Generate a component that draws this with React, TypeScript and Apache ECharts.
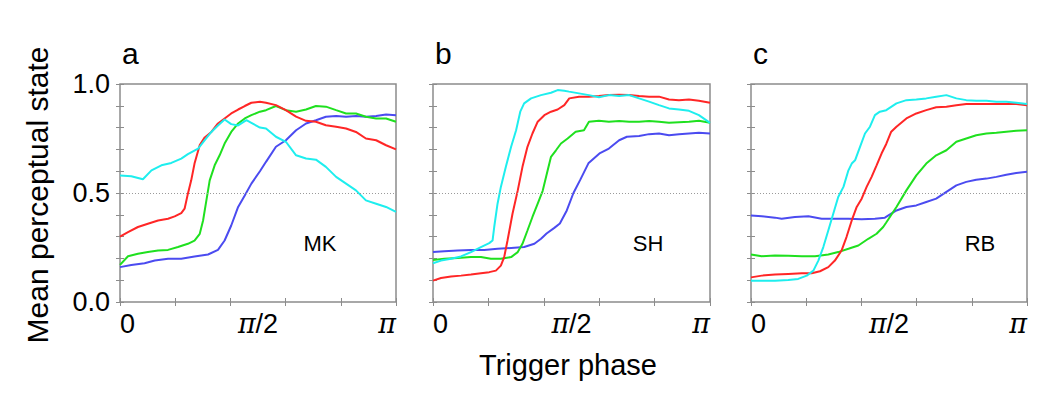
import React, { useEffect, useRef } from "react";
import * as echarts from "echarts";

// x in units of pi, y = mean perceptual state
const mkRed = [[0,0.30],[0.029,0.32],[0.065,0.344],[0.101,0.359],[0.138,0.374],[0.174,0.382],[0.198,0.393],[0.222,0.408],[0.234,0.428],[0.246,0.497],[0.258,0.558],[0.27,0.635],[0.289,0.72],[0.307,0.755],[0.331,0.78],[0.355,0.819],[0.379,0.842],[0.403,0.865],[0.428,0.883],[0.452,0.899],[0.476,0.914],[0.507,0.919],[0.529,0.914],[0.565,0.903],[0.601,0.88],[0.638,0.85],[0.674,0.831],[0.71,0.827],[0.746,0.811],[0.783,0.804],[0.819,0.796],[0.855,0.78],[0.891,0.75],[0.928,0.742],[0.964,0.719],[1.0,0.70]];
const mkGreen = [[0,0.17],[0.029,0.21],[0.065,0.221],[0.101,0.229],[0.138,0.236],[0.174,0.239],[0.21,0.252],[0.246,0.267],[0.27,0.282],[0.289,0.313],[0.301,0.374],[0.313,0.466],[0.325,0.558],[0.343,0.627],[0.361,0.673],[0.379,0.727],[0.403,0.78],[0.428,0.819],[0.452,0.842],[0.476,0.857],[0.507,0.873],[0.529,0.88],[0.565,0.899],[0.601,0.88],[0.638,0.873],[0.674,0.883],[0.71,0.899],[0.746,0.896],[0.783,0.88],[0.819,0.865],[0.855,0.865],[0.891,0.85],[0.928,0.842],[0.964,0.842],[1.0,0.827]];
const mkBlue = [[0,0.16],[0.041,0.17],[0.089,0.178],[0.126,0.19],[0.174,0.198],[0.222,0.198],[0.27,0.209],[0.319,0.218],[0.355,0.239],[0.379,0.282],[0.403,0.351],[0.428,0.436],[0.452,0.489],[0.476,0.543],[0.507,0.60],[0.529,0.643],[0.565,0.712],[0.601,0.742],[0.638,0.788],[0.674,0.819],[0.71,0.834],[0.746,0.85],[0.783,0.853],[0.819,0.85],[0.855,0.853],[0.891,0.85],[0.928,0.853],[0.964,0.86],[1.0,0.857]];
const mkCyan = [[0,0.58],[0.041,0.577],[0.083,0.563],[0.114,0.604],[0.15,0.627],[0.186,0.638],[0.222,0.658],[0.246,0.678],[0.283,0.704],[0.307,0.742],[0.331,0.78],[0.355,0.81],[0.379,0.837],[0.403,0.816],[0.428,0.81],[0.458,0.834],[0.476,0.822],[0.507,0.80],[0.529,0.796],[0.565,0.758],[0.601,0.735],[0.638,0.673],[0.674,0.658],[0.71,0.653],[0.746,0.62],[0.783,0.574],[0.819,0.543],[0.855,0.512],[0.891,0.466],[0.928,0.451],[0.964,0.436],[1.0,0.413]];

const shRed = [[0,0.098],[0.029,0.11],[0.065,0.117],[0.101,0.121],[0.137,0.126],[0.173,0.132],[0.203,0.137],[0.227,0.144],[0.245,0.167],[0.257,0.206],[0.269,0.282],[0.287,0.405],[0.306,0.512],[0.323,0.62],[0.341,0.712],[0.359,0.773],[0.378,0.827],[0.402,0.857],[0.426,0.873],[0.45,0.883],[0.474,0.903],[0.492,0.934],[0.527,0.942],[0.563,0.942],[0.599,0.945],[0.635,0.949],[0.672,0.951],[0.708,0.949],[0.744,0.945],[0.78,0.942],[0.816,0.942],[0.852,0.929],[0.888,0.926],[0.924,0.929],[0.96,0.923],[1.0,0.914]];
const shGreen = [[0,0.193],[0.041,0.198],[0.089,0.202],[0.137,0.206],[0.173,0.206],[0.209,0.198],[0.245,0.198],[0.282,0.206],[0.306,0.229],[0.323,0.267],[0.341,0.328],[0.359,0.39],[0.378,0.451],[0.396,0.51],[0.414,0.604],[0.426,0.666],[0.444,0.696],[0.462,0.727],[0.486,0.75],[0.515,0.781],[0.545,0.788],[0.563,0.827],[0.599,0.831],[0.635,0.827],[0.672,0.83],[0.708,0.827],[0.744,0.827],[0.78,0.83],[0.816,0.827],[0.852,0.822],[0.888,0.825],[0.924,0.827],[0.96,0.831],[1.0,0.822]];
const shBlue = [[0,0.229],[0.041,0.233],[0.089,0.236],[0.137,0.239],[0.185,0.239],[0.233,0.244],[0.282,0.248],[0.329,0.252],[0.366,0.267],[0.39,0.29],[0.41,0.314],[0.438,0.34],[0.458,0.36],[0.483,0.42],[0.507,0.50],[0.531,0.559],[0.561,0.636],[0.603,0.683],[0.635,0.704],[0.672,0.742],[0.7,0.758],[0.744,0.761],[0.78,0.77],[0.816,0.773],[0.852,0.765],[0.888,0.77],[0.924,0.773],[0.96,0.776],[1.0,0.773]];
const shCyan = [[0,0.178],[0.029,0.19],[0.065,0.198],[0.101,0.209],[0.137,0.229],[0.173,0.252],[0.203,0.27],[0.215,0.282],[0.221,0.344],[0.233,0.451],[0.245,0.528],[0.263,0.62],[0.282,0.712],[0.30,0.788],[0.315,0.873],[0.329,0.911],[0.354,0.934],[0.39,0.949],[0.426,0.96],[0.45,0.972],[0.474,0.969],[0.491,0.965],[0.527,0.957],[0.563,0.949],[0.599,0.939],[0.635,0.949],[0.672,0.945],[0.708,0.949],[0.744,0.934],[0.78,0.919],[0.816,0.903],[0.852,0.888],[0.888,0.883],[0.924,0.877],[0.96,0.857],[1.0,0.822]];

const rbRed = [[0,0.113],[0.039,0.121],[0.087,0.126],[0.135,0.129],[0.184,0.132],[0.22,0.132],[0.25,0.141],[0.28,0.16],[0.304,0.19],[0.328,0.236],[0.346,0.298],[0.365,0.374],[0.383,0.436],[0.401,0.474],[0.419,0.528],[0.437,0.574],[0.455,0.627],[0.473,0.681],[0.49,0.725],[0.508,0.781],[0.527,0.804],[0.563,0.842],[0.599,0.865],[0.635,0.88],[0.671,0.893],[0.708,0.896],[0.744,0.903],[0.78,0.908],[0.816,0.908],[0.853,0.908],[0.889,0.908],[0.925,0.908],[0.961,0.908],[1.0,0.903]];
const rbGreen = [[0,0.218],[0.039,0.21],[0.087,0.213],[0.135,0.212],[0.184,0.21],[0.232,0.21],[0.28,0.218],[0.316,0.229],[0.353,0.244],[0.389,0.259],[0.425,0.29],[0.455,0.313],[0.479,0.344],[0.49,0.365],[0.527,0.436],[0.563,0.512],[0.599,0.581],[0.635,0.635],[0.671,0.673],[0.708,0.696],[0.744,0.735],[0.78,0.75],[0.816,0.765],[0.853,0.773],[0.889,0.776],[0.925,0.781],[0.961,0.785],[1.0,0.788]];
const rbBlue = [[0,0.397],[0.039,0.393],[0.087,0.387],[0.111,0.382],[0.159,0.39],[0.208,0.393],[0.256,0.382],[0.304,0.382],[0.353,0.382],[0.401,0.38],[0.449,0.382],[0.485,0.387],[0.527,0.42],[0.563,0.436],[0.599,0.443],[0.635,0.459],[0.671,0.474],[0.708,0.505],[0.744,0.535],[0.78,0.551],[0.816,0.561],[0.853,0.566],[0.889,0.574],[0.925,0.584],[0.961,0.592],[1.0,0.597]];
const rbCyan = [[0,0.098],[0.039,0.098],[0.087,0.098],[0.135,0.101],[0.171,0.106],[0.202,0.121],[0.226,0.144],[0.244,0.19],[0.262,0.252],[0.28,0.328],[0.298,0.405],[0.316,0.482],[0.335,0.528],[0.353,0.604],[0.365,0.635],[0.377,0.65],[0.395,0.712],[0.413,0.773],[0.431,0.804],[0.449,0.857],[0.467,0.873],[0.49,0.88],[0.527,0.911],[0.563,0.926],[0.599,0.929],[0.635,0.934],[0.671,0.942],[0.708,0.949],[0.744,0.934],[0.78,0.926],[0.816,0.923],[0.853,0.923],[0.889,0.919],[0.925,0.919],[0.961,0.914],[1.0,0.908]];

const panelLetters = ["a", "b", "c"];
const subjects = ["MK", "SH", "RB"];
const xTickValues = [0, 0.2, 0.4, 0.6, 0.8, 1];
const xLabelValues = [0, 0.5, 1];
const yTickValues = [0, 0.1, 0.2, 0.3, 0.4, 0.5, 0.6, 0.7, 0.8, 0.9, 1];
const yLabelValues = [0, 0.5, 1];
const threshold = 0.5;

const panelData = [
  { red: mkRed, green: mkGreen, blue: mkBlue, cyan: mkCyan },
  { red: shRed, green: shGreen, blue: shBlue, cyan: shCyan },
  { red: rbRed, green: rbGreen, blue: rbBlue, cyan: rbCyan },
];

const COLORS = { red: "#ff2626", green: "#1fe01f", blue: "#4b4bf0", cyan: "#1eeeee" };
const FONT = "'Liberation Sans', Arial, Helvetica, sans-serif";
const GRIDS = [
  { left: 120, top: 84, width: 276, height: 218 },
  { left: 433, top: 84, width: 277, height: 218 },
  { left: 751, top: 84, width: 276, height: 218 },
];

function xLabel(v: number) {
  if (Math.abs(v) < 1e-9) return "0";
  if (Math.abs(v - 0.5) < 1e-9) return "{pi|π}/2";
  return "{pi|π}";
}

export default function App() {
  const ref = useRef<HTMLDivElement>(null);
  useEffect(() => {
    if (!ref.current) return;
    const chart = echarts.init(ref.current, null, { renderer: "svg" });
    const tickStyle = { show: true, inside: true, length: 4, lineStyle: { color: "#8c8c8c", width: 1 } };
    const xAxis: any[] = [];
    const yAxis: any[] = [];
    const series: any[] = [];
    GRIDS.forEach((_, gi) => {
      xAxis.push({
        type: "value", gridIndex: gi, min: 0, max: 1, position: "bottom",
        axisLine: { show: false }, splitLine: { show: false },
        axisTick: { ...tickStyle, customValues: xTickValues },
        axisLabel: {
          customValues: xLabelValues, formatter: xLabel, margin: 8,
          fontSize: 27, color: "#000", fontFamily: FONT,
          alignMinLabel: "left", alignMaxLabel: "right",
          rich: { pi: { fontFamily: "'DejaVu Serif', serif", fontStyle: "italic", fontSize: 27, color: "#000" } },
        },
      });
      xAxis.push({
        type: "value", gridIndex: gi, min: 0, max: 1, position: "top",
        axisLine: { show: false }, splitLine: { show: false },
        axisTick: { ...tickStyle, customValues: xTickValues },
        axisLabel: { show: false },
      });
      yAxis.push({
        type: "value", gridIndex: gi, min: 0, max: 1, interval: 0.1, position: "left",
        axisLine: { show: false }, splitLine: { show: false },
        axisTick: { ...tickStyle, customValues: yTickValues },
        axisLabel: gi === 0
          ? { customValues: yLabelValues, formatter: (v: number) => v.toFixed(1), margin: 10, fontSize: 27, color: "#000", fontFamily: FONT }
          : { show: false },
      });
      yAxis.push({
        type: "value", gridIndex: gi, min: 0, max: 1, interval: 0.1, position: "right",
        axisLine: { show: false }, splitLine: { show: false },
        axisTick: { ...tickStyle, customValues: yTickValues },
        axisLabel: { show: false },
      });
      const pd: any = panelData[gi];
      (["blue", "green", "red", "cyan"] as const).forEach((k, si) => {
        series.push({
          type: "line", xAxisIndex: gi * 2, yAxisIndex: gi * 2, data: pd[k],
          showSymbol: false, symbol: "none", smooth: false,
          lineStyle: { color: COLORS[k], width: 2 },
          itemStyle: { color: COLORS[k] },
          z: 3,
          markLine: si === 0 ? {
            silent: true, symbol: "none", label: { show: false },
            lineStyle: { color: "#9a9a9a", width: 1, type: [1, 2] },
            data: [{ yAxis: threshold }],
          } : undefined,
        });
      });
    });
    const graphic: any[] = [];
    GRIDS.forEach((g, gi) => {
      graphic.push({
        type: "text", left: g.left + 2, top: 38,
        style: { text: panelLetters[gi], fontSize: 30, fontFamily: FONT, fill: "#000" },
      });
    });
    const subjPos = [[320, 243], [648, 243], [980, 243]];
    subjPos.forEach((p, i) => {
      graphic.push({
        type: "text", x: p[0], y: p[1],
        style: { text: subjects[i], fontSize: 22, fontFamily: FONT, fill: "#000", align: "center", verticalAlign: "middle" },
      });
    });
    graphic.push({
      type: "text", x: 37, y: 195, rotation: Math.PI / 2,
      style: { text: "Mean perceptual state", fontSize: 30, fontFamily: FONT, fill: "#000", align: "center", verticalAlign: "middle" },
    });
    graphic.push({
      type: "text", x: 568, y: 365,
      style: { text: "Trigger phase", fontSize: 29, fontFamily: FONT, fill: "#000", align: "center", verticalAlign: "middle" },
    });
    chart.setOption({
      animation: false,
      backgroundColor: "#fff",
      grid: GRIDS.map((g) => ({ ...g, show: true, borderColor: "#8c8c8c", borderWidth: 1.5, backgroundColor: "transparent" })),
      xAxis, yAxis, series, graphic,
    });
    return () => chart.dispose();
  }, []);
  return <div ref={ref} style={{ position: "fixed", left: 0, top: 0, width: 1050, height: 414 }} />;
}
